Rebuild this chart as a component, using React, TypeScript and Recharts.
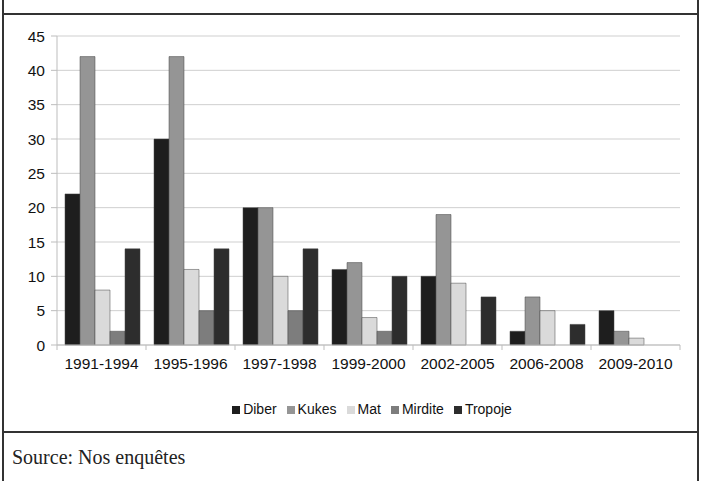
import React from "react";
import { BarChart, Bar, XAxis, YAxis, CartesianGrid, Legend } from "recharts";

const periods = ["1991-1994", "1995-1996", "1997-1998", "1999-2000", "2002-2005", "2006-2008", "2009-2010"];
const diber = [22, 30, 20, 11, 10, 2, 5];
const kukes = [42, 42, 20, 12, 19, 7, 2];
const mat = [8, 11, 10, 4, 9, 5, 1];
const mirdite = [2, 5, 5, 2, 0, 0, 0];
const tropoje = [14, 14, 14, 10, 7, 3, 0];
const yTicks = [0, 5, 10, 15, 20, 25, 30, 35, 40, 45];

const series = [
  { key: "Diber", values: diber, color: "#1e1e1e" },
  { key: "Kukes", values: kukes, color: "#959595" },
  { key: "Mat", values: mat, color: "#dadada" },
  { key: "Mirdite", values: mirdite, color: "#7d7d7d" },
  { key: "Tropoje", values: tropoje, color: "#2d2d2d" },
];

const data = periods.map((p, i) => {
  const row: Record<string, string | number> = { period: p };
  series.forEach((s) => (row[s.key] = s.values[i]));
  return row;
});

const font = "Liberation Sans, Arial, sans-serif";
const line = "#333";
const MARGIN = 13;

// category label plus the small Excel-style tick between categories
function CatTick(props: any) {
  const { x, y, payload, index, visibleTicksCount } = props;
  const half = payload.offset || 0;
  const top = y - MARGIN;
  return (
    <g>
      <line x1={x - half} x2={x - half} y1={top} y2={top + 5} stroke="#bdbdbd" />
      {index === visibleTicksCount - 1 && (
        <line x1={x + half} x2={x + half} y1={top} y2={top + 5} stroke="#bdbdbd" />
      )}
      <text x={x} y={y} dy="0.71em" textAnchor="middle" fill="#111" fontSize={15.5} fontFamily={font}>
        {payload.value}
      </text>
    </g>
  );
}

export default function App() {
  return (
    <div style={{ position: "absolute", left: 0, top: 0, width: 703, height: 481, background: "#fff", overflow: "hidden" }}>
      <div style={{ position: "absolute", left: 2, top: 0, width: 2, height: 481, background: line }} />
      <div style={{ position: "absolute", left: 697, top: 0, width: 2, height: 481, background: line }} />
      <div style={{ position: "absolute", left: 2, top: 13, width: 697, height: 2, background: line }} />
      <div style={{ position: "absolute", left: 2, top: 431, width: 697, height: 2, background: line }} />
      <div style={{ position: "absolute", left: 0, top: 0 }}>
        <BarChart
          width={703}
          height={432}
          data={data}
          margin={{ top: 36, right: 23, left: 0, bottom: 13 }}
          barCategoryGap="9%"
          barGap={0}
        >
          <CartesianGrid vertical={false} stroke="#cfcfcf" />
          <XAxis
            dataKey="period"
            height={56}
            stroke="#bdbdbd"
            tickLine={false}
            tickSize={0}
            tickMargin={MARGIN}
            tick={<CatTick />}
            interval={0}
          />
          <YAxis
            width={57}
            domain={[0, 45]}
            ticks={yTicks}
            stroke="#bdbdbd"
            tickSize={6}
            tickMargin={6}
            tick={{ fill: "#111", fontSize: 15.5, fontFamily: font }}
          />
          <YAxis
            yAxisId="frame"
            orientation="right"
            width={0}
            domain={[0, 45]}
            stroke="#cfcfcf"
            tick={false}
            tickLine={false}
          />
          <Legend
            verticalAlign="bottom"
            align="center"
            iconType="square"
            iconSize={8}
            height={18}
            wrapperStyle={{ fontSize: 14, fontFamily: font, left: 37 }}
            formatter={(v) => <span style={{ color: "#111", marginLeft: -1 }}>{v}</span>}
          />
          {series.map((s) => (
            <Bar key={s.key} dataKey={s.key} fill={s.color} stroke="#444" strokeWidth={0.5} isAnimationActive={false} />
          ))}
        </BarChart>
      </div>
      <div
        style={{
          position: "absolute",
          left: 12,
          top: 446,
          fontFamily: "Liberation Serif, Times New Roman, serif",
          fontSize: 20,
          color: "#222",
        }}
      >
        Source: Nos enquêtes
      </div>
    </div>
  );
}
